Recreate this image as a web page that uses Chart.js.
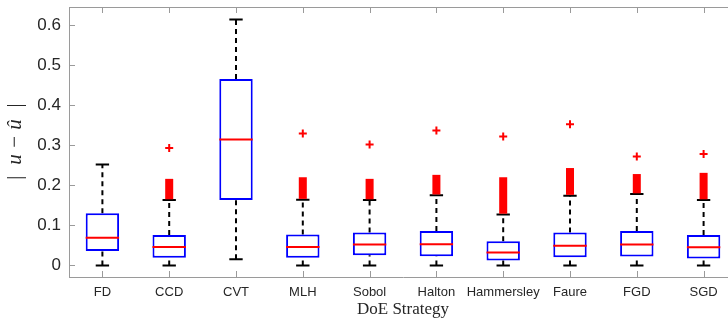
<!DOCTYPE html>
<html>
<head>
<meta charset="utf-8">
<script src="https://cdn.jsdelivr.net/npm/chart.js@4"></script>
<style>
  html, body { margin: 0; padding: 0; background: #fff; overflow: hidden; }
  #wrap { position: relative; width: 743px; height: 323px; }
</style>
</head>
<body>
<div id="wrap"><canvas id="myChart"></canvas></div>
<script>
'use strict';

const categories = ['FD', 'CCD', 'CVT', 'MLH', 'Sobol', 'Halton', 'Hammersley', 'Faure', 'FGD', 'SGD'];
const yTicks = [0, 0.1, 0.2, 0.3, 0.4, 0.5, 0.6];

const whiskerLow = [0, 0, 0.015, 0, 0, 0, 0, 0, 0, 0];
const q1 = [0.036, 0.019, 0.163, 0.019, 0.025, 0.023, 0.012, 0.020, 0.022, 0.017];
const median = [0.069, 0.046, 0.314, 0.046, 0.052, 0.053, 0.032, 0.049, 0.052, 0.045];
const q3 = [0.130, 0.076, 0.465, 0.077, 0.082, 0.086, 0.060, 0.082, 0.086, 0.076];
const whiskerHigh = [0.252, 0.163, 0.614, 0.164, 0.163, 0.175, 0.127, 0.174, 0.178, 0.163];
// dense runs of outliers just above the upper whisker
const outlierLow = [null, 0.165, null, 0.166, 0.165, 0.177, 0.129, 0.176, 0.180, 0.165];
const outlierHigh = [null, 0.216, null, 0.220, 0.216, 0.226, 0.220, 0.243, 0.228, 0.231];
// single far outliers
const farOutlier = [null, 0.293, null, 0.329, 0.302, 0.337, 0.322, 0.352, 0.272, 0.278];

const capHalf = 0.1;
const boxHalf = 0.25;

// helpers to build line segments separated by gaps
function segments(fn) {
  const pts = [];
  for (let i = 0; i < categories.length; i++) {
    const seg = fn(i);
    if (!seg) continue;
    pts.push(...seg, {x: i + 1, y: null});
  }
  return pts;
}

const boxes = categories.map((c, i) => ({x: i + 1, y: [q1[i], q3[i]]}));
const columns = [];
const farPts = [];
for (let i = 0; i < categories.length; i++) {
  if (outlierLow[i] !== null) columns.push({x: i + 1, y: [outlierLow[i], outlierHigh[i]]});
  if (farOutlier[i] !== null) farPts.push({x: i + 1, y: farOutlier[i]});
}

const whiskerUp = segments(i => [{x: i + 1, y: q3[i]}, {x: i + 1, y: whiskerHigh[i]}]);
const whiskerDown = segments(i => [{x: i + 1, y: whiskerLow[i]}, {x: i + 1, y: q1[i]}]);
const capsUp = segments(i => [{x: i + 1 - capHalf, y: whiskerHigh[i]}, {x: i + 1 + capHalf, y: whiskerHigh[i]}]);
const capsDown = segments(i => [{x: i + 1 - capHalf, y: whiskerLow[i]}, {x: i + 1 + capHalf, y: whiskerLow[i]}]);
const medians = segments(i => [{x: i + 1 - boxHalf, y: median[i]}, {x: i + 1 + boxHalf, y: median[i]}]);

const axisGray = '#9a9a9a';
const textGray = '#262626';

const frame = {
  id: 'frame',
  afterDraw(chart) {
    const {ctx, chartArea: a, scales: {x, y}} = chart;
    ctx.save();
    ctx.strokeStyle = axisGray;
    ctx.lineWidth = 1;
    ctx.beginPath();
    ctx.moveTo(a.left, a.top + 0.5);
    ctx.lineTo(a.right, a.top + 0.5);
    x.ticks.forEach(t => {
      const px = Math.round(x.getPixelForValue(t.value)) + 0.5;
      ctx.moveTo(px, a.bottom);
      ctx.lineTo(px, a.bottom - 6);
      ctx.moveTo(px, a.top);
      ctx.lineTo(px, a.top + 6);
    });
    y.ticks.forEach(t => {
      const py = Math.round(y.getPixelForValue(t.value)) + 0.5;
      ctx.moveTo(a.left, py);
      ctx.lineTo(a.left + 6, py);
    });
    ctx.stroke();
    ctx.restore();
  }
};

const lineBase = {type: 'line', pointRadius: 0, spanGaps: false, fill: false, tension: 0};

new Chart(document.getElementById('myChart').getContext('2d'), {
  type: 'bar',
  data: {
    datasets: [
      Object.assign({}, lineBase, {data: whiskerUp, borderColor: '#000', borderWidth: 2, borderDash: [5, 4], order: 6}),
      Object.assign({}, lineBase, {data: whiskerDown, borderColor: '#000', borderWidth: 2, borderDash: [5, 4], order: 6}),
      Object.assign({}, lineBase, {data: capsUp, borderColor: '#000', borderWidth: 2, order: 5}),
      Object.assign({}, lineBase, {data: capsDown, borderColor: '#000', borderWidth: 2, order: 5}),
      {
        type: 'bar',
        data: boxes,
        backgroundColor: '#ffffff',
        borderColor: '#0000ff',
        borderWidth: 2,
        borderSkipped: false,
        grouped: false,
        barPercentage: 0.5,
        categoryPercentage: 1,
        order: 4
      },
      Object.assign({}, lineBase, {data: medians, borderColor: '#ff0000', borderWidth: 2, order: 1}),
      {
        type: 'bar',
        data: columns,
        backgroundColor: '#ff0000',
        borderWidth: 0,
        grouped: false,
        barPercentage: 0.12,
        categoryPercentage: 1,
        order: 2
      },
      {
        type: 'scatter',
        data: farPts,
        pointStyle: 'cross',
        pointRadius: 4,
        borderColor: '#ff0000',
        borderWidth: 2,
        showLine: false,
        order: 0
      }
    ]
  },
  options: {
    responsive: true,
    maintainAspectRatio: false,
    animation: false,
    events: [],
    layout: {padding: {top: 7, right: 0, left: 0, bottom: 0}},
    plugins: {legend: {display: false}, tooltip: {enabled: false}},
    scales: {
      x: {
        type: 'linear',
        min: 0.5,
        max: 10.5,
        offset: false,
        grid: {display: false, drawTicks: false},
        border: {display: true, color: axisGray, width: 1},
        afterBuildTicks: s => { s.ticks = categories.map((c, i) => ({value: i + 1})); },
        afterFit: s => { s.height = 46; s.paddingLeft = 0; s.paddingRight = 0; },
        ticks: {
          autoSkip: false,
          maxRotation: 0,
          padding: 8,
          color: textGray,
          font: {family: 'Liberation Sans, Arial, sans-serif', size: 13},
          callback: v => categories[v - 1]
        },
        title: {
          display: true,
          text: 'DoE Strategy',
          color: textGray,
          font: {family: 'Liberation Serif, Times New Roman, serif', size: 17},
          padding: {top: 0, bottom: 3}
        }
      },
      y: {
        min: -0.029,
        max: 0.645,
        grid: {display: false, drawTicks: false},
        border: {display: true, color: axisGray, width: 1},
        afterBuildTicks: s => { s.ticks = yTicks.map(v => ({value: v})); },
        afterFit: s => { s.width = 69; s.paddingTop = 0; s.paddingBottom = 0; },
        ticks: {
          padding: 8,
          color: textGray,
          font: {family: 'Liberation Sans, Arial, sans-serif', size: 17},
          callback: v => v === 0 ? '0' : v.toFixed(1)
        },
        title: {
          display: true,
          text: '|\u2002u \u2212 \u00fb\u2002|',
          color: textGray,
          font: {family: 'Liberation Serif, Times New Roman, serif', size: 21, style: 'italic'},
          padding: {top: 3, bottom: 0}
        }
      }
    }
  },
  plugins: [frame]
});
</script>
</body>
</html>
